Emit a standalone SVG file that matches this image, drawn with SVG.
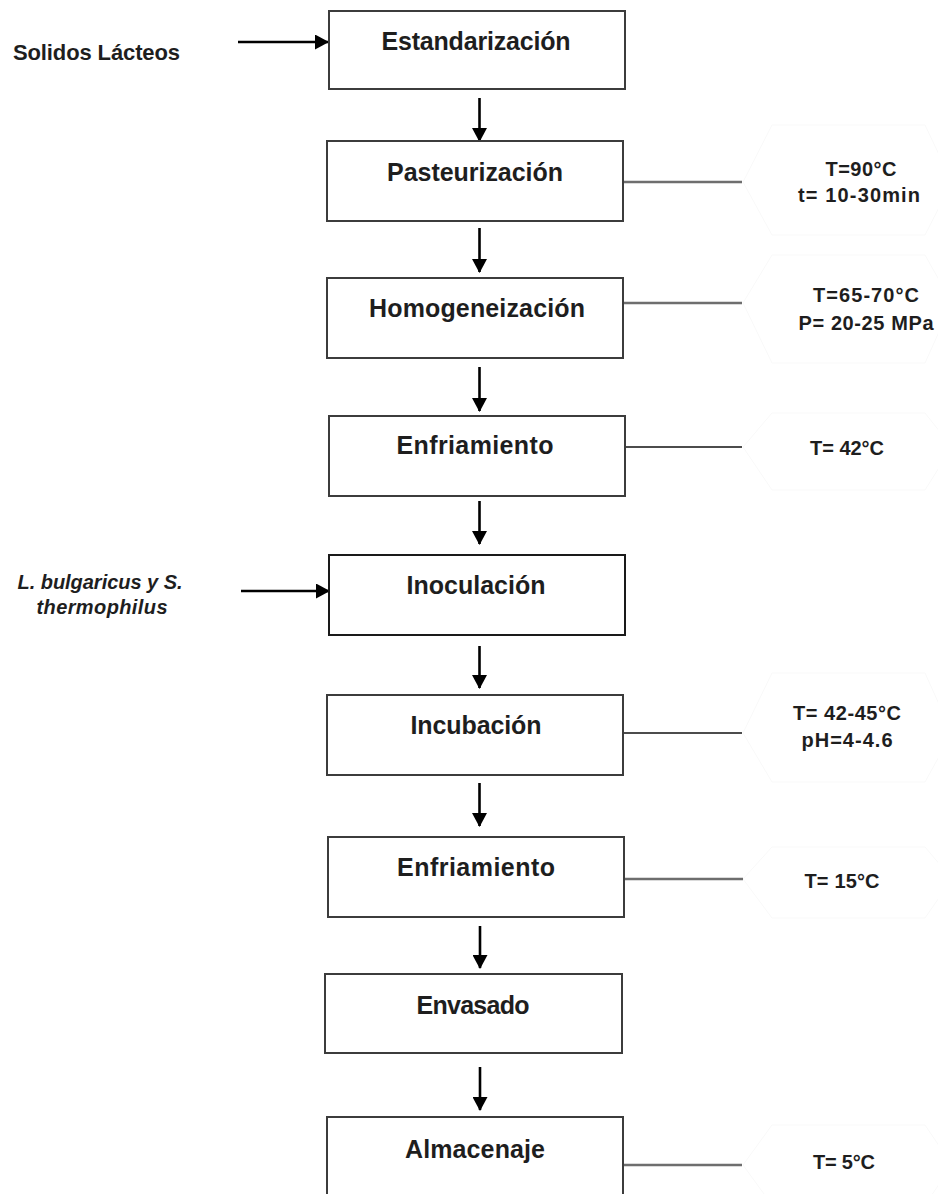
<svg xmlns="http://www.w3.org/2000/svg" width="938" height="1194" viewBox="0 0 938 1194">
  <defs>
    <marker id="ah" markerUnits="userSpaceOnUse" viewBox="0 0 14 15" refX="13" refY="7.5" markerWidth="14" markerHeight="15" orient="auto">
      <path d="M0,0 L14,7.5 L0,15 Z" fill="#000"/>
    </marker>
  </defs>
  <style>
    .box { fill: #fff; stroke: #3c3c3c; stroke-width: 2; }
    .lbl { font-family: "Liberation Sans", Arial, sans-serif; font-weight: bold; font-size: 25px; fill: #1e1e1e; text-anchor: middle; }
    .side { font-family: "Liberation Sans", Arial, sans-serif; font-weight: bold; font-size: 20px; fill: #1e1e1e; text-anchor: middle; }
    .inp { font-family: "Liberation Sans", Arial, sans-serif; font-weight: bold; font-size: 22px; fill: #1e1e1e; }
    .ital { font-family: "Liberation Sans", Arial, sans-serif; font-weight: bold; font-style: italic; font-size: 20px; fill: #1e1e1e; text-anchor: middle; }
    .arrow { stroke: #000; stroke-width: 2.6; fill: none; marker-end: url(#ah); }
    .tie-g { stroke: #6e6e6e; stroke-width: 2.4; fill: none; }
    .tie-k { stroke: #111; stroke-width: 1.6; fill: none; }
    .hex { fill: none; stroke: #f9f9f9; stroke-width: 1; }
  </style>
  <rect width="938" height="1194" fill="#fff"/>

  <g id="faint-hexagons">
    <polygon class="hex" points="743,182 772,125 925,125 952,182 925,235 772,235"/>
    <polygon class="hex" points="743,303 772,255 925,255 952,303 925,363 772,363"/>
    <polygon class="hex" points="743,447 772,413 925,413 952,447 925,490 772,490"/>
    <polygon class="hex" points="743,733 772,673 925,673 952,733 925,782 772,782"/>
    <polygon class="hex" points="743,879 772,847 925,847 952,879 925,918 772,918"/>
    <polygon class="hex" points="743,1165 772,1125 925,1125 952,1165 925,1205 772,1205"/>
  </g>

  <g id="connectors">
    <line class="arrow" x1="238" y1="42" x2="328" y2="42"/>
    <line class="arrow" x1="241" y1="591" x2="329" y2="591"/>
    <line class="arrow" x1="479.5" y1="98" x2="479.5" y2="141"/>
    <line class="arrow" x1="479.5" y1="228" x2="479.5" y2="272"/>
    <line class="arrow" x1="479.5" y1="367" x2="479.5" y2="411"/>
    <line class="arrow" x1="479.5" y1="501" x2="479.5" y2="544"/>
    <line class="arrow" x1="479.5" y1="646" x2="479.5" y2="688"/>
    <line class="arrow" x1="479.5" y1="783" x2="479.5" y2="826"/>
    <line class="arrow" x1="480" y1="926" x2="480" y2="968"/>
    <line class="arrow" x1="480" y1="1067" x2="480" y2="1110"/>
    <line class="tie-g" x1="623" y1="182" x2="742" y2="182"/>
    <line class="tie-g" x1="623" y1="303" x2="742" y2="303"/>
    <line class="tie-k" x1="625" y1="447" x2="742" y2="447"/>
    <line class="tie-k" x1="623" y1="733" x2="742" y2="733"/>
    <line class="tie-g" x1="624" y1="879" x2="743" y2="879"/>
    <line class="tie-g" x1="623" y1="1165" x2="742" y2="1165"/>
  </g>

  <g id="input-solidos">
    <text class="inp" x="13" y="60" textLength="167">Solidos Lácteos</text>
  </g>
  <g id="input-cultivo">
    <text class="ital" x="100" y="589" textLength="165">L. bulgaricus y S.</text>
    <text class="ital" x="102" y="614" textLength="131">thermophilus</text>
  </g>

  <g id="n1">
    <rect class="box" x="329" y="11" width="296" height="78"/>
    <text class="lbl" x="476" y="50" textLength="189">Estandarización</text>
  </g>
  <g id="n2">
    <rect class="box" x="327" y="141" width="296" height="80"/>
    <text class="lbl" x="475" y="181" textLength="176">Pasteurización</text>
  </g>
  <g id="n3">
    <rect class="box" x="327" y="278" width="296" height="80"/>
    <text class="lbl" x="477" y="317" textLength="216">Homogeneización</text>
  </g>
  <g id="n4">
    <rect class="box" x="329" y="416" width="296" height="80"/>
    <text class="lbl" x="475" y="454" textLength="157">Enfriamiento</text>
  </g>
  <g id="n5">
    <rect class="box" x="329" y="555" width="296" height="80" style="stroke:#1a1a1a"/>
    <text class="lbl" x="476" y="594" textLength="139">Inoculación</text>
  </g>
  <g id="n6">
    <rect class="box" x="327" y="695" width="296" height="80"/>
    <text class="lbl" x="476" y="734" textLength="131">Incubación</text>
  </g>
  <g id="n7">
    <rect class="box" x="328" y="837" width="296" height="80"/>
    <text class="lbl" x="476" y="876" textLength="158">Enfriamiento</text>
  </g>
  <g id="n8">
    <rect class="box" x="325" y="974" width="297" height="79"/>
    <text class="lbl" x="473" y="1014" textLength="113">Envasado</text>
  </g>
  <g id="n9">
    <rect class="box" x="327" y="1117" width="296" height="90"/>
    <text class="lbl" x="475" y="1158" textLength="140">Almacenaje</text>
  </g>

  <g id="cond-pasteurizacion">
    <text class="side" x="861" y="176" textLength="71">T=90°C</text>
    <text class="side" x="859" y="202" textLength="122">t= 10-30min</text>
  </g>
  <g id="cond-homogeneizacion">
    <text class="side" x="866" y="302" textLength="106">T=65-70°C</text>
    <text class="side" x="866" y="330" textLength="135">P= 20-25 MPa</text>
  </g>
  <g id="cond-enfriamiento1">
    <text class="side" x="847" y="455" textLength="74">T= 42°C</text>
  </g>
  <g id="cond-incubacion">
    <text class="side" x="847" y="720" textLength="108">T= 42-45°C</text>
    <text class="side" x="847" y="747" textLength="91">pH=4-4.6</text>
  </g>
  <g id="cond-enfriamiento2">
    <text class="side" x="842" y="888" textLength="75">T= 15°C</text>
  </g>
  <g id="cond-almacenaje">
    <text class="side" x="844" y="1169" textLength="62">T= 5°C</text>
  </g>
</svg>
